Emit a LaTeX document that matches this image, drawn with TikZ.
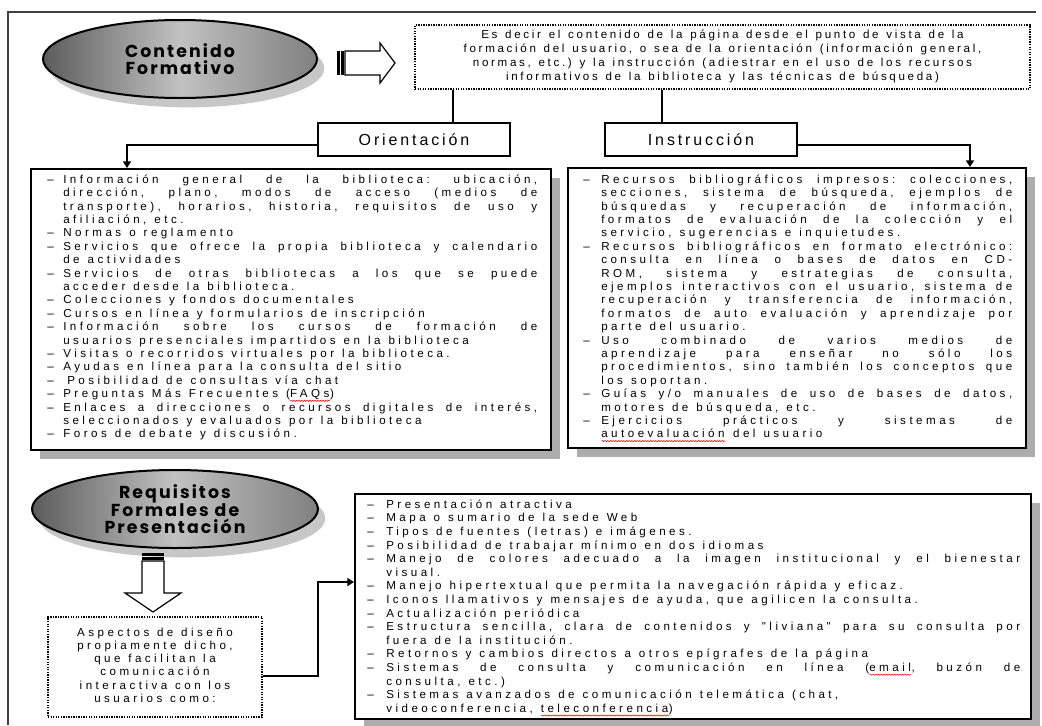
\documentclass[tikz,border=0pt]{standalone}
\usepackage{fontspec}
\setmainfont{Liberation Sans}
\newfontfamily\listfont[LetterSpace=30]{Liberation Sans}
\newfontfamily\boxfont[LetterSpace=23]{Liberation Sans}
\newfontfamily\headfont[LetterSpace=18]{Liberation Sans}
\newfontfamily\titlefont[LetterSpace=12]{Poppins}
\usetikzlibrary{arrows.meta,shadows,shapes.geometric,decorations.pathmorphing}

\newlength\curw
\newlength\ind
\newlength\sqw
\newlength\rkspace
\newcommand\sq[1]{\setbox0=\hbox{#1}\setlength\sqw{\wd0}\rlap{\box0}\raisebox{-2.4pt}[0pt][0pt]{\tikz[x=1pt,y=1pt,baseline=0pt]\draw[red,line width=0.4pt,decorate,decoration={snake,amplitude=0.45pt,segment length=2pt}] (0,0) -- (\sqw,0);}}
\newcommand\jsep{\hskip\dimexpr\rkspace\relax plus 1fil\relax}
\newcommand\rsep{\hskip\dimexpr\rkspace\relax\relax}

\ExplSyntaxOn
\seq_new:N \l__rk_words_seq
\cs_new_protected:Npn \rk_line:nnn #1#2#3
  {
    \seq_set_split:Nnn \l__rk_words_seq { ~ } { #3 }
    \hbox_to_wd:nn { \curw }
      {
        \strut #1
        \int_case:nn { #2 }
          {
            { 0 } { \seq_use:Nn \l__rk_words_seq { \rsep } \hfil }
            { 1 } { \seq_use:Nn \l__rk_words_seq { \jsep } }
            { 2 } { \hfil \seq_use:Nn \l__rk_words_seq { \rsep } \hfil }
          }
      }
  }
\NewDocumentCommand \BJ { m } { \rk_line:nnn { \hbox_to_wd:nn { \ind } { –\hss } } { 1 } { #1 } }
\NewDocumentCommand \BR { m } { \rk_line:nnn { \hbox_to_wd:nn { \ind } { –\hss } } { 0 } { #1 } }
\NewDocumentCommand \CJ { m } { \rk_line:nnn { \hbox_to_wd:nn { \ind } { } } { 1 } { #1 } }
\NewDocumentCommand \CR { m } { \rk_line:nnn { \hbox_to_wd:nn { \ind } { } } { 0 } { #1 } }
\NewDocumentCommand \CC { m } { \rk_line:nnn { } { 2 } { #1 } }
\ExplSyntaxOff

\begin{document}
\begin{tikzpicture}[x=0.75pt,y=-0.75pt,
  frame/.style={line width=1.1pt, draw=black!75},
  conn/.style={line width=1.5pt, -{Triangle[length=5pt,width=6pt]}},
  link/.style={line width=1.5pt},
  bigbox/.style={draw, line width=1.4pt, fill=white, inner sep=0,
    drop shadow={shadow xshift=6.5pt, shadow yshift=-6.5pt, fill=black!32, opacity=1}},
  listtext/.style={anchor=north west, inner sep=0, font=\listfont},
  ctext/.style={anchor=north, inner sep=0},
  dotbox/.style={draw, line width=1.3pt, dash pattern=on 1pt off 0.9pt, fill=white, inner sep=0},
  labbox/.style={draw, line width=1.1pt, fill=white, inner sep=0,
    font=\headfont\fontsize{12}{14}\selectfont, minimum width=144pt, minimum height=24.75pt},
  oval/.style={ellipse, draw, line width=1.5pt, inner sep=0, minimum height=58.5pt,
    left color=black!64, right color=black!50, middle color=black!24,
    align=center, font=\titlefont\bfseries\fontsize{13}{12.5}\selectfont,
    drop shadow={shadow xshift=5.5pt, shadow yshift=-7pt, fill=black!22, opacity=1}},
  barrow/.style={draw=black, line width=0.9pt, fill=white},
]
\useasboundingbox (0,0) rectangle (1042,725);

% frame
\draw[frame] (8,725) -- (8,12) -- (1036,12);

% ---- top part ----
\node[oval, minimum width=205.5pt] (ell1) at (180,59) {Contenido\\Formativo};

% striped block arrow (right)
\fill (337,51) rectangle (339.5,75);
\fill (341,51) rectangle (344,75);
\draw[barrow] (345,51) -- (380,51) -- (380,43) -- (395,63) -- (380,83) -- (380,75) -- (345,75) -- cycle;

\node[dotbox, minimum width=461.25pt, minimum height=48pt] (dtop) at (722.5,57) {};
\node[ctext, font=\boxfont] (dtoptext) at (722.5,28.2) {\fontsize{8.7}{10.5}\selectfont
\setlength\curw{450pt}\setlength\rkspace{5.8pt}%
\vbox{%
\CC{Es decir el contenido de la página desde el punto de vista de la}
\CC{formación del usuario, o sea de la orientación (información general,}
\CC{normas, etc.) y la instrucción (adiestrar en el uso de los recursos}
\CC{informativos de la biblioteca y las técnicas de búsqueda)}
}};

\node[labbox] (orient) at (414,139.5) {Orientación};
\node[labbox] (instr) at (701,139.5) {Instrucción};

\coordinate (v1) at (453,0);
\coordinate (v2) at (662,0);
\draw[link] (dtop.south -| v1) -- (orient.north -| v1);
\draw[link] (dtop.south -| v2) -- (instr.north -| v2);

% big boxes
\node[bigbox, anchor=north west, minimum width=390pt, minimum height=210.75pt] (lbox) at (30,168) {};
\node[bigbox, anchor=north west, minimum width=343.5pt, minimum height=210pt] (rbox) at (567,167) {};

\coordinate (c1) at (127,145);
\coordinate (c2) at (970,145);
\draw[conn] (orient.west |- c1) -- (c1) -- (c1 |- lbox.north);
\draw[conn] (instr.east |- c2) -- (c2) -- (c2 |- rbox.north);

\node[listtext] (ltext) at (47,173.6) {\fontsize{8.7}{10.05}\selectfont
\setlength\curw{367.5pt}\setlength\ind{12pt}\setlength\rkspace{6pt}%
\vbox{%
\BJ{Información general de la biblioteca: ubicación,}
\CJ{dirección, plano, modos de acceso (medios de}
\CJ{transporte), horarios, historia, requisitos de uso y}
\CR{afiliación, etc.}
\BR{Normas o reglamento}
\BJ{Servicios que ofrece la propia biblioteca y calendario}
\CR{de actividades}
\BJ{Servicios de otras bibliotecas a los que se puede}
\CR{acceder desde la biblioteca.}
\BR{Colecciones y fondos documentales}
\BR{Cursos en línea y formularios de inscripción}
\BJ{Información sobre los cursos de formación de}
\CR{usuarios presenciales impartidos en la biblioteca}
\BR{Visitas o recorridos virtuales por la biblioteca.}
\BR{Ayudas en línea para la consulta del sitio}
\BR{\hspace{3pt}Posibilidad de consultas vía chat}
\BR{Preguntas Más Frecuentes (\sq{FAQs})}
\BJ{Enlaces a direcciones o recursos digitales de interés,}
\CR{seleccionados y evaluados por la biblioteca}
\BR{Foros de debate y discusión.}
}};

\node[listtext] (rtext) at (583,173.6) {\fontsize{8.7}{10.05}\selectfont
\setlength\curw{321.75pt}\setlength\ind{13.5pt}\setlength\rkspace{6pt}%
\vbox{%
\BJ{Recursos bibliográficos impresos: colecciones,}
\CJ{secciones, sistema de búsqueda, ejemplos de}
\CJ{búsquedas y recuperación de información,}
\CJ{formatos de evaluación de la colección y el}
\CR{servicio, sugerencias e inquietudes.}
\BJ{Recursos bibliográficos en formato electrónico:}
\CJ{consulta en línea o bases de datos en CD-}
\CJ{ROM, sistema y estrategias de consulta,}
\CJ{ejemplos interactivos con el usuario, sistema de}
\CJ{recuperación y transferencia de información,}
\CJ{formatos de auto evaluación y aprendizaje por}
\CR{parte del usuario.}
\BJ{Uso combinado de varios medios de}
\CJ{aprendizaje para enseñar no sólo los}
\CJ{procedimientos, sino también los conceptos que}
\CR{los soportan.}
\BJ{Guías y/o manuales de uso de bases de datos,}
\CR{motores de búsqueda, etc.}
\BJ{Ejercicios prácticos y sistemas de}
\CR{\sq{autoevaluación} del usuario}
}};

% ---- bottom part ----
\node[oval, minimum width=214.5pt] (ell2) at (175,509) {Requisitos\\Formales de\\Presentación};

% striped block arrow (down)
\fill (142,553) rectangle (164,555.5);
\fill (142,557) rectangle (164,560);
\draw[barrow] (142,561) -- (164,561) -- (164,593) -- (181,593) -- (153,612) -- (125,593) -- (142,593) -- cycle;

\node[dotbox, minimum width=160.5pt, minimum height=75pt] (dbot) at (155,667) {};
\node[ctext, font=\listfont] (dbottext) at (155,627.5) {\fontsize{8.7}{8.7}\selectfont
\setlength\curw{150pt}\setlength\rkspace{5.8pt}%
\vbox{%
\CC{Aspectos de diseño}
\CC{propiamente dicho,}
\CC{que facilitan la}
\CC{comunicación}
\CC{interactiva con los}
\CC{usuarios como:}
}};

\node[bigbox, anchor=north west, minimum width=507pt, minimum height=168.75pt] (bbox) at (354,493) {};

\coordinate (c3) at (318,676);
\coordinate (c4) at (318,582);
\draw[conn] (dbot.east |- c3) -- (c3) -- (c4) -- (c4 -| bbox.west);

\node[listtext] (btext) at (367,498.5) {\fontsize{8.7}{10.2}\selectfont
\setlength\curw{489.75pt}\setlength\ind{14.25pt}\setlength\rkspace{6pt}%
\vbox{%
\BR{Presentación atractiva}
\BR{Mapa o sumario de la sede Web}
\BR{Tipos de fuentes (letras) e imágenes.}
\BR{Posibilidad de trabajar mínimo en dos idiomas}
\BJ{Manejo de colores adecuado a la imagen institucional y el bienestar}
\CR{visual.}
\BR{Manejo hipertextual que permita la navegación rápida y eficaz.}
\BR{Iconos llamativos y mensajes de ayuda, que agilicen la consulta.}
\BR{Actualización periódica}
\BJ{Estructura sencilla, clara de contenidos y "liviana" para su consulta por}
\CR{fuera de la institución.}
\BR{Retornos y cambios directos a otros epígrafes de la página}
\BJ{Sistemas de consulta y comunicación en línea (\sq{email}, buzón de}
\CR{consulta, etc.)}
\BR{Sistemas avanzados de comunicación telemática (chat,}
\CR{videoconferencia, \sq{teleconferencia})}
}};
\end{tikzpicture}
\end{document}
